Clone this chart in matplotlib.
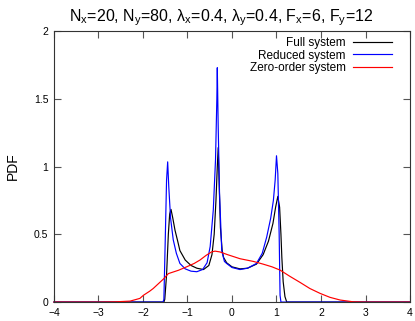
import matplotlib
matplotlib.use('Agg')
import matplotlib.pyplot as plt

plt.rcParams['font.family'] = ['Liberation Sans', 'DejaVu Sans']
plt.rcParams['mathtext.fontset'] = 'custom'
plt.rcParams['mathtext.rm'] = 'Liberation Sans'
plt.rcParams['mathtext.it'] = 'Liberation Sans'

# Full system
full_x = [-4, -1.53, -1.51, -1.47, -1.43, -1.40, -1.37, -1.33, -1.28, -1.22, -1.17, -1.05,
          -0.92, -0.79, -0.64, -0.52, -0.45, -0.40, -0.36, -0.33, -0.31, -0.29, -0.26, -0.22,
          -0.19, -0.12, 0.0, 0.18, 0.35, 0.55, 0.70, 0.82, 0.92, 0.98, 1.03, 1.07, 1.10, 1.12,
          1.15, 1.19, 1.23, 4]
full_y = [0, 0, 0.02, 0.2, 0.5, 0.65, 0.684, 0.62, 0.53, 0.45, 0.38, 0.31,
          0.27, 0.25, 0.24, 0.27, 0.35, 0.5, 0.75, 1.0, 1.14, 0.9, 0.55, 0.38,
          0.33, 0.29, 0.26, 0.245, 0.25, 0.28, 0.35, 0.45, 0.58, 0.7, 0.78, 0.7, 0.5, 0.33,
          0.15, 0.04, 0, 0]

# Reduced system
red_x = [-4, -1.55, -1.53, -1.50, -1.47, -1.445, -1.42, -1.38, -1.32, -1.25, -1.17, -1.05,
         -0.92, -0.79, -0.66, -0.56, -0.49, -0.42, -0.37, -0.34, -0.33, -0.31, -0.28, -0.23,
         -0.17, -0.12, 0.0, 0.18, 0.35, 0.55, 0.68, 0.78, 0.87, 0.93, 0.97, 1.0, 1.03, 1.06,
         1.08, 1.10, 4]
red_y = [0, 0, 0.02, 0.45, 0.9, 1.035, 0.85, 0.62, 0.46, 0.36, 0.285, 0.245,
         0.228, 0.224, 0.24, 0.29, 0.41, 0.68, 1.05, 1.5, 1.73, 1.3, 0.8, 0.38,
         0.3, 0.285, 0.255, 0.24, 0.25, 0.285, 0.36, 0.48, 0.62, 0.75, 0.9, 1.08, 0.95, 0.5,
         0.05, 0, 0]

# Zero-order system
zero_x = [-4, -3, -2.6, -2.29, -2.07, -1.99, -1.85, -1.77, -1.54, -1.43, -1.2, -1.02, -0.85,
          -0.72, -0.58, -0.46, -0.38, -0.27, -0.1, 0.18, 0.48, 0.7, 0.9, 1.08, 1.3, 1.53,
          1.75, 1.98, 2.2, 2.43, 2.72, 3.0, 4]
zero_y = [0, 0, 0.002, 0.007, 0.027, 0.05, 0.08, 0.10, 0.17, 0.21, 0.235, 0.26, 0.285,
          0.31, 0.345, 0.37, 0.376, 0.37, 0.35, 0.32, 0.30, 0.28, 0.26, 0.236, 0.19, 0.145,
          0.10, 0.064, 0.035, 0.015, 0.002, 0, 0]

fig = plt.figure(figsize=(4.15, 3.21), dpi=100)
ax = fig.add_axes([0.130, 0.059, 0.858, 0.844])

ax.plot(full_x, full_y, color='black', lw=0.85, label='Full system', clip_on=False)
ax.plot(red_x, red_y, color='blue', lw=0.85, label='Reduced system', clip_on=False)
ax.plot(zero_x, zero_y, color='red', lw=0.85, label='Zero-order system', clip_on=False)

ax.set_xlim(-4, 4)
ax.set_ylim(0, 2)
ax.set_xticks(range(-4, 5))
ax.set_yticks([0, 0.5, 1, 1.5, 2])
ax.set_yticklabels(['0', '0.5', '1', '1.5', '2'])
ax.tick_params(direction='in', length=5, width=0.8, labelsize=7.5,
               top=True, right=True, color='#555555', pad=4)
for s in ax.spines.values():
    s.set_linewidth(0.8)
    s.set_color('#333333')

ax.set_ylabel('PDF', fontsize=10, labelpad=10)
ax.set_title('N$_x$=20, N$_y$=80, λ$_x$=0.4, λ$_y$=0.4, F$_x$=6, F$_y$=12',
             fontsize=11.5, pad=7, x=0.47)

ax.legend(loc='upper right', frameon=False, markerfirst=False, fontsize=8.5,
          handlelength=3.3, labelspacing=0.05, borderaxespad=0.2, borderpad=0.3,
          handletextpad=0.6, bbox_to_anchor=(0.965, 1.0))

fig.savefig('out.png', dpi=100)
